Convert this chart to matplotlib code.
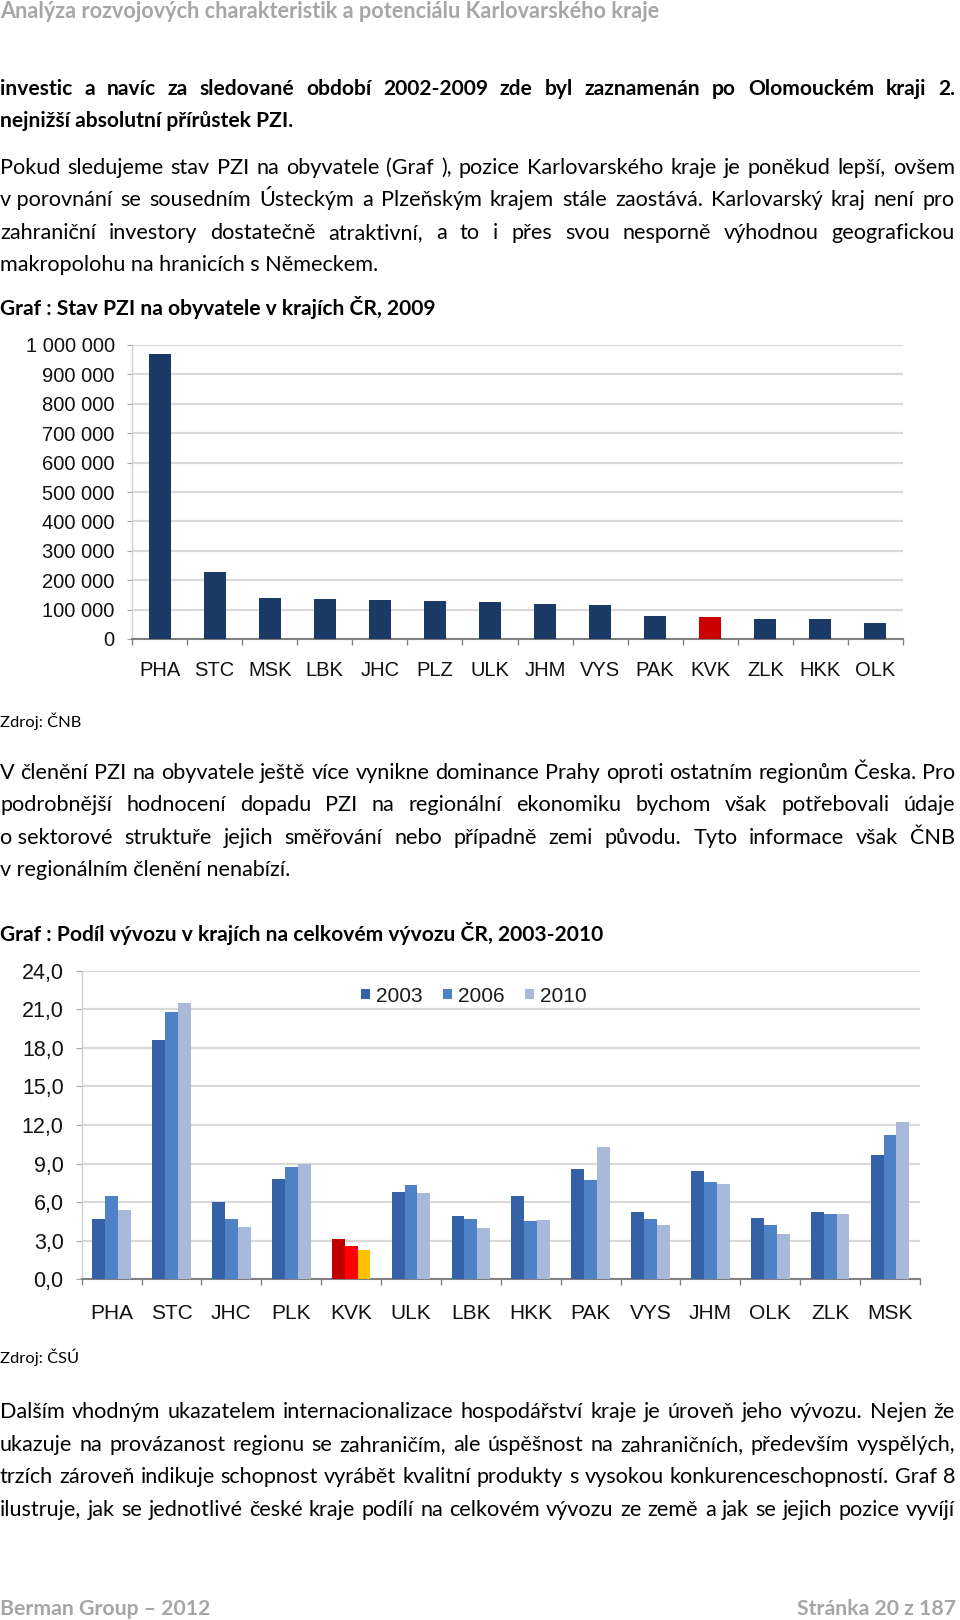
import matplotlib
matplotlib.use('Agg')
import matplotlib.pyplot as plt
import numpy as np
from matplotlib.ticker import FuncFormatter, MultipleLocator, FixedLocator

W, H = 960, 1620

# chart 1: PZI na obyvatele, 2009
pzi_regions = ['PHA', 'STC', 'MSK', 'LBK', 'JHC', 'PLZ', 'ULK', 'JHM', 'VYS', 'PAK', 'KVK', 'ZLK', 'HKK', 'OLK']
pzi_values = [968000, 227000, 139000, 136000, 132500, 128000, 125500, 119000, 115500, 79500, 73500, 67000, 66500, 54500]

# chart 2: podil vyvozu, 2003-2010
exp_regions = ['PHA', 'STC', 'JHC', 'PLK', 'KVK', 'ULK', 'LBK', 'HKK', 'PAK', 'VYS', 'JHM', 'OLK', 'ZLK', 'MSK']
exp_years = ['2003', '2006', '2010']
exp_2003 = [4.7, 18.6, 6.0, 7.8, 3.1, 6.8, 4.9, 6.5, 8.6, 5.2, 8.4, 4.8, 5.2, 9.7]
exp_2006 = [6.5, 20.8, 4.7, 8.7, 2.6, 7.3, 4.7, 4.5, 7.7, 4.7, 7.6, 4.2, 5.1, 11.2]
exp_2010 = [5.4, 21.5, 4.1, 9.0, 2.3, 6.7, 4.0, 4.6, 10.3, 4.2, 7.4, 3.5, 5.1, 12.2]

header = 'Analýza rozvojových charakteristik a potenciálu Karlovarského kraje'
para_bold = ['investic a navíc za sledované období 2002-2009 zde byl zaznamenán po Olomouckém kraji 2.',
             'nejnižší absolutní přírůstek PZI.']
para_2 = ['Pokud sledujeme stav PZI na obyvatele (Graf ), pozice Karlovarského kraje je poněkud lepší, ovšem',
          'v\u00a0porovnání se sousedním Ústeckým a Plzeňským krajem stále zaostává. Karlovarský kraj není pro',
          'zahraniční investory dostatečně atraktivní, a to i přes svou nesporně výhodnou geografickou',
          'makropolohu na hranicích s\u00a0Německem.']
title_1 = 'Graf : Stav PZI na obyvatele v krajích ČR, 2009'
source_1 = 'Zdroj: ČNB'
para_3 = ['V členění PZI na obyvatele ještě více vynikne dominance Prahy oproti ostatním regionům Česka. Pro',
          'podrobnější hodnocení dopadu PZI na regionální ekonomiku bychom však potřebovali údaje',
          'o\u00a0sektorové struktuře jejich směřování nebo případně zemi původu. Tyto informace však ČNB',
          'v\u00a0regionálním členění nenabízí.']
title_2 = 'Graf : Podíl vývozu v krajích na celkovém vývozu ČR, 2003-2010'
source_2 = 'Zdroj: ČSÚ'
para_4 = ['Dalším vhodným ukazatelem internacionalizace hospodářství kraje je úroveň jeho vývozu. Nejen že',
          'ukazuje na provázanost regionu se zahraničím, ale úspěšnost na zahraničních, především vyspělých,',
          'trzích zároveň indikuje schopnost vyrábět kvalitní produkty s vysokou konkurenceschopností. Graf 8',
          'ilustruje, jak se jednotlivé české kraje podílí na celkovém vývozu ze země a jak se jejich pozice vyvíjí']
footer_l = 'Berman Group – 2012'
footer_r = 'Stránka 20 z 187'

TXT = ['Lato', 'DejaVu Sans']
CHART = ['Liberation Sans', 'DejaVu Sans']

fig = plt.figure(figsize=(9.6, 16.2), dpi=100)
fig.patch.set_facecolor('white')
renderer = fig.canvas.get_renderer()


def width_of(s, size, weight):
    t = fig.text(0, 0, s, fontsize=size, fontweight=weight, family=TXT)
    w = t.get_window_extent(renderer).width
    t.remove()
    return w


def fit(s, target, weight='normal'):
    # font size so that s is target px wide
    return 20 * target / width_of(s, 20, weight)


body_fs = fit(para_2[3], 379)
bold_fs = fit(title_1, 436, 'bold')
head_fs = fit(header, 655, 'bold')
foot_fs = fit(footer_l, 210, 'bold')
src_fs = fit(source_1, 81)


def line(s, yb, size, weight='normal', justify=False, color='black', x0=0, x1=955, ha='left'):
    y = 1 - yb / H
    if not justify:
        fig.text((x0 if ha == 'left' else x1) / W, y, s, fontsize=size, fontweight=weight,
                 family=TXT, color=color, va='baseline', ha=ha)
        return
    words = s.split(' ')
    arts = [fig.text(0, y, w, fontsize=size, fontweight=weight, family=TXT,
                     color=color, va='baseline', ha='left') for w in words]
    widths = [a.get_window_extent(renderer).width for a in arts]
    gap = (x1 - x0 - sum(widths)) / (len(words) - 1)
    x = x0
    for a, wd in zip(arts, widths):
        a.set_x(x / W)
        x += wd + gap


def paragraph(lines, y0, step, size, weight='normal', last_just=False):
    for i, s in enumerate(lines):
        just = (i < len(lines) - 1) or last_just
        line(s, y0 + i * step, size, weight, justify=just)


line(header, 18, head_fs, 'bold', color='#A6A6A6')
paragraph(para_bold, 95, 32, bold_fs, 'bold')
paragraph(para_2, 174, 32.4, body_fs)
line(title_1, 315, bold_fs, 'bold')
line(source_1, 727, src_fs)
paragraph(para_3, 779, 32.4, body_fs)
line(title_2, 941, bold_fs, 'bold')
line(source_2, 1363, src_fs)
paragraph(para_4, 1418, 32.7, body_fs, last_just=True)
line(footer_l, 1615, foot_fs, 'bold', color='#A6A6A6')
line(footer_r, 1615, foot_fs, 'bold', color='#A6A6A6', x1=956, ha='right')


def style_axes(ax, n, xfs, yfs, xpad, ypad, ylen):
    ax.set_xlim(-0.5, n - 0.5)
    ax.grid(axis='y', color='#D9D9D9', lw=1.6, zorder=0)
    ax.xaxis.set_minor_locator(FixedLocator(np.arange(-0.5, n, 1)))
    ax.tick_params(axis='x', which='major', length=0, pad=xpad, labelsize=xfs, labelcolor='#111111')
    ax.tick_params(axis='x', which='minor', length=4, color='#808080', width=1)
    ax.tick_params(axis='y', length=ylen, color='#A6A6A6', pad=ypad, labelsize=yfs, labelcolor='#111111')
    for s in ['top', 'right']:
        ax.spines[s].set_visible(False)
    ax.spines['left'].set_color('#D0D0D0')
    ax.spines['left'].set_linewidth(1)
    ax.spines['bottom'].set_color('#808080')
    ax.spines['bottom'].set_linewidth(1.5)
    for lab in ax.get_xticklabels() + ax.get_yticklabels():
        lab.set_family(CHART)


# chart 1
ax1 = fig.add_axes([132 / W, 1 - 639 / H, (903 - 132) / W, (639 - 345) / H])
x1 = np.arange(len(pzi_regions))
c1 = ['#CC0000' if r == 'KVK' else '#1B3A66' for r in pzi_regions]
ax1.bar(x1, pzi_values, width=0.4, color=c1, zorder=3)
ax1.set_ylim(0, 1000000)
ax1.yaxis.set_major_locator(MultipleLocator(100000))
ax1.yaxis.set_major_formatter(FuncFormatter(lambda v, p: f'{int(round(v)):,}'.replace(',', ' ')))
ax1.set_xticks(x1, pzi_regions)
style_axes(ax1, len(pzi_regions), 14.5, 14.5, 15.5, 9, 3.5)

# chart 2
ax2 = fig.add_axes([81.7 / W, 1 - 1279.3 / H, (920 - 81.7) / W, (1279.3 - 970.7) / H])
x2 = np.arange(len(exp_regions))
bw = 0.215
normal = ['#3562A6', '#4F81C7', '#A9B9DA']
hilite = ['#C00000', '#FF0000', '#FFC000']
for i, (vals, col, hc, yr) in enumerate(zip([exp_2003, exp_2006, exp_2010], normal, hilite, exp_years)):
    cols = [hc if r == 'KVK' else col for r in exp_regions]
    ax2.bar(x2 + (i - 1) * bw, vals, width=bw, color=cols, label=yr, zorder=3)
ax2.set_ylim(0, 24)
ax2.yaxis.set_major_locator(MultipleLocator(3))
ax2.yaxis.set_major_formatter(FuncFormatter(lambda v, p: f'{v:.1f}'.replace('.', ',')))
ax2.set_xticks(x2, exp_regions)
style_axes(ax2, len(exp_regions), 15, 15.5, 17.5, 9, 4)
ax2.legend(loc='center', bbox_to_anchor=(474 / W, 1 - 996 / H), bbox_transform=fig.transFigure,
           ncol=3, frameon=False, handlelength=0.4, handleheight=0.4, handletextpad=0.3,
           columnspacing=1.0, prop={'family': CHART, 'size': 15}, labelcolor='#1A1A1A')

fig.savefig('out.png', dpi=100, facecolor='white')
